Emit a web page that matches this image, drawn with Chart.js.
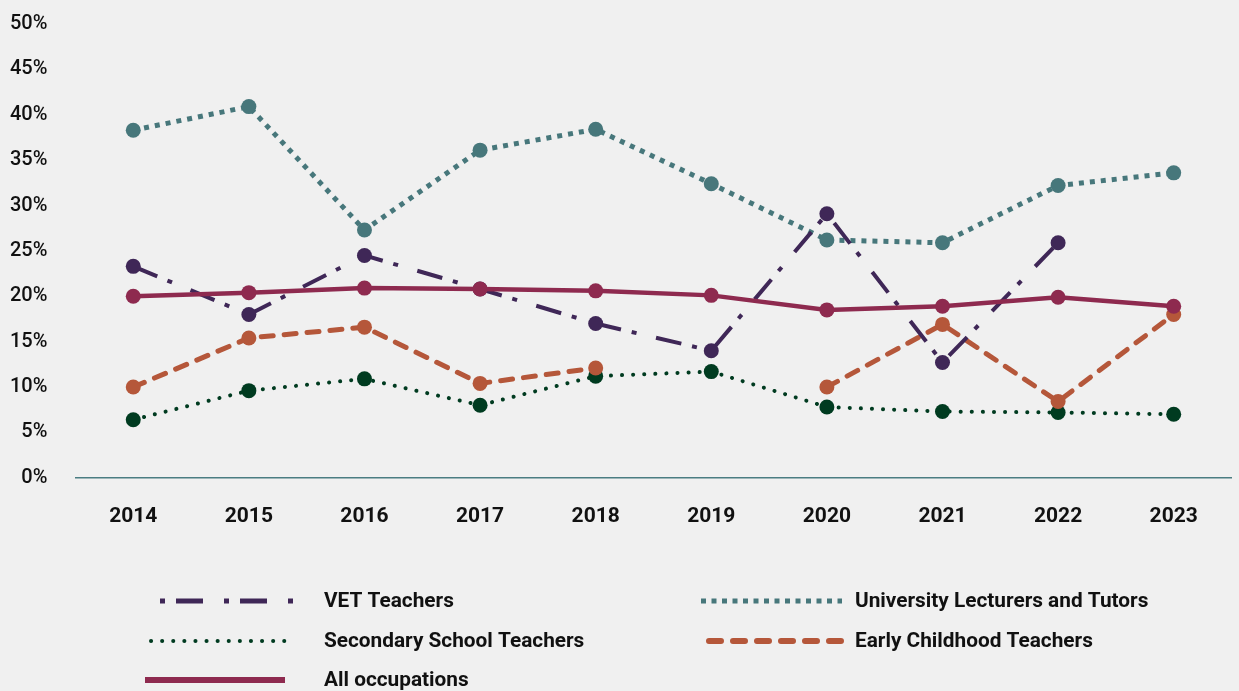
<!DOCTYPE html>
<html>
<head>
<meta charset="utf-8">
<script src="https://cdn.jsdelivr.net/npm/chart.js@4/dist/chart.umd.min.js"></script>
<style>
  html, body { margin: 0; padding: 0; background: #f0f0f0; }
  #wrap { width: 1239px; height: 691px; }
</style>
</head>
<body>
<div id="wrap"><canvas id="c" width="1239" height="691"></canvas></div>
<script>
// ---- data ----
const years = ['2014','2015','2016','2017','2018','2019','2020','2021','2022','2023'];
const yTicks = [0, 5, 10, 15, 20, 25, 30, 35, 40, 45, 50];
const vetTeachers = [23.3, 18.0, 24.5, 20.8, 17.0, 14.0, 29.1, 12.7, 25.9, null];
const universityLecturers = [38.3, 40.9, 27.3, 36.1, 38.4, 32.4, 26.2, 25.9, 32.2, 33.6];
const secondaryTeachers = [6.4, 9.6, 10.9, 8.0, 11.2, 11.7, 7.8, 7.3, 7.2, 7.0];
const earlyChildhood = [10.0, 15.4, 16.6, 10.4, 12.1, null, 10.0, 16.9, 8.4, 18.0];
const allOccupations = [20.0, 20.4, 20.9, 20.8, 20.6, 20.1, 18.5, 18.9, 19.9, 18.9];
const seriesNames = ['VET Teachers', 'University Lecturers and Tutors', 'Secondary School Teachers', 'Early Childhood Teachers', 'All occupations'];

// ---- styles ----
const C = {
  vet: '#3f2757',
  uni: '#47777b',
  sec: '#003b20',
  early: '#b5573a',
  all: '#8e2a4f',
  axis: '#4a7d82',
  text: '#111111'
};

const styleMap = {
  'VET Teachers': { color: C.vet, width: 5, dash: [5, 11, 27, 21], cap: 'butt' },
  'University Lecturers and Tutors': { color: C.uni, width: 5, dash: [5, 5.5], cap: 'butt' },
  'Secondary School Teachers': { color: C.sec, width: 4, dash: [0.1, 11], cap: 'round' },
  'Early Childhood Teachers': { color: C.early, width: 6, dash: [12, 12], cap: 'round' },
  'All occupations': { color: C.all, width: 6, dash: [], cap: 'butt' }
};

const legendLayout = [
  { name: seriesNames[0], x1: 160, x2: 293, tx: 324, y: 601 },
  { name: seriesNames[1], x1: 701, x2: 842, tx: 855, y: 601 },
  { name: seriesNames[2], x1: 151, x2: 288, tx: 324, y: 641 },
  { name: seriesNames[3], x1: 709, x2: 842, tx: 855, y: 641 },
  { name: seriesNames[4], x1: 145, x2: 285, tx: 324, y: 680 }
];

const customLegend = {
  id: 'customLegend',
  afterDraw(chart) {
    const ctx = chart.ctx;
    ctx.save();
    legendLayout.forEach(item => {
      const s = styleMap[item.name];
      ctx.beginPath();
      ctx.strokeStyle = s.color;
      ctx.lineWidth = s.width;
      ctx.lineCap = s.cap;
      ctx.setLineDash(s.dash);
      ctx.moveTo(item.x1, item.y);
      ctx.lineTo(item.x2, item.y);
      ctx.stroke();
      ctx.setLineDash([]);
      ctx.fillStyle = C.text;
      ctx.font = 'bold 20.8px Roboto';
      ctx.textBaseline = 'middle';
      ctx.textAlign = 'left';
      ctx.fillText(item.name, item.tx, item.y + 1);
    });
    ctx.restore();
  }
};

const mk = (label, data, color, width, dash, cap) => ({
  label, data,
  borderColor: color, backgroundColor: color,
  borderWidth: width, borderDash: dash, borderCapStyle: cap,
  pointRadius: 7.5, pointHoverRadius: 7.5, pointBorderWidth: 0,
  pointBackgroundColor: color, tension: 0, spanGaps: false, fill: false
});

new Chart(document.getElementById('c'), {
  type: 'line',
  data: {
    labels: years,
    datasets: [
      mk(seriesNames[4], allOccupations, C.all, 4.5, [], 'butt'),
      mk(seriesNames[0], vetTeachers, C.vet, 4, [26, 11, 5, 20], 'butt'),
      mk(seriesNames[3], earlyChildhood, C.early, 5, [12, 11], 'round'),
      mk(seriesNames[2], secondaryTeachers, C.sec, 4, [0.1, 11], 'round'),
      mk(seriesNames[1], universityLecturers, C.uni, 5, [5, 6], 'butt')
    ]
  },
  options: {
    responsive: false,
    animation: false,
    devicePixelRatio: 1,
    layout: { padding: { top: 24, left: -18, right: 0, bottom: 136 } },
    plugins: { legend: { display: false }, tooltip: { enabled: false } },
    scales: {
      x: {
        offset: true,
        grid: { display: false, drawTicks: false },
        border: { display: true, color: C.axis, width: 1.5 },
        ticks: { color: C.text, padding: 26, font: { family: 'Roboto', size: 21, weight: 'bold' } }
      },
      y: {
        min: 0, max: 50,
        afterBuildTicks(scale) { scale.ticks = yTicks.map(v => ({ value: v })); },
        afterFit(scale) { scale.paddingTop = 12; scale.paddingBottom = 0; },
        grid: { display: false, drawTicks: false },
        border: { display: false },
        ticks: {
          color: C.text, padding: 28,
          font: { family: 'Roboto', size: 20, weight: 500 },
          callback: v => v + '%'
        }
      }
    }
  },
  plugins: [customLegend]
});
</script>
</body>
</html>
